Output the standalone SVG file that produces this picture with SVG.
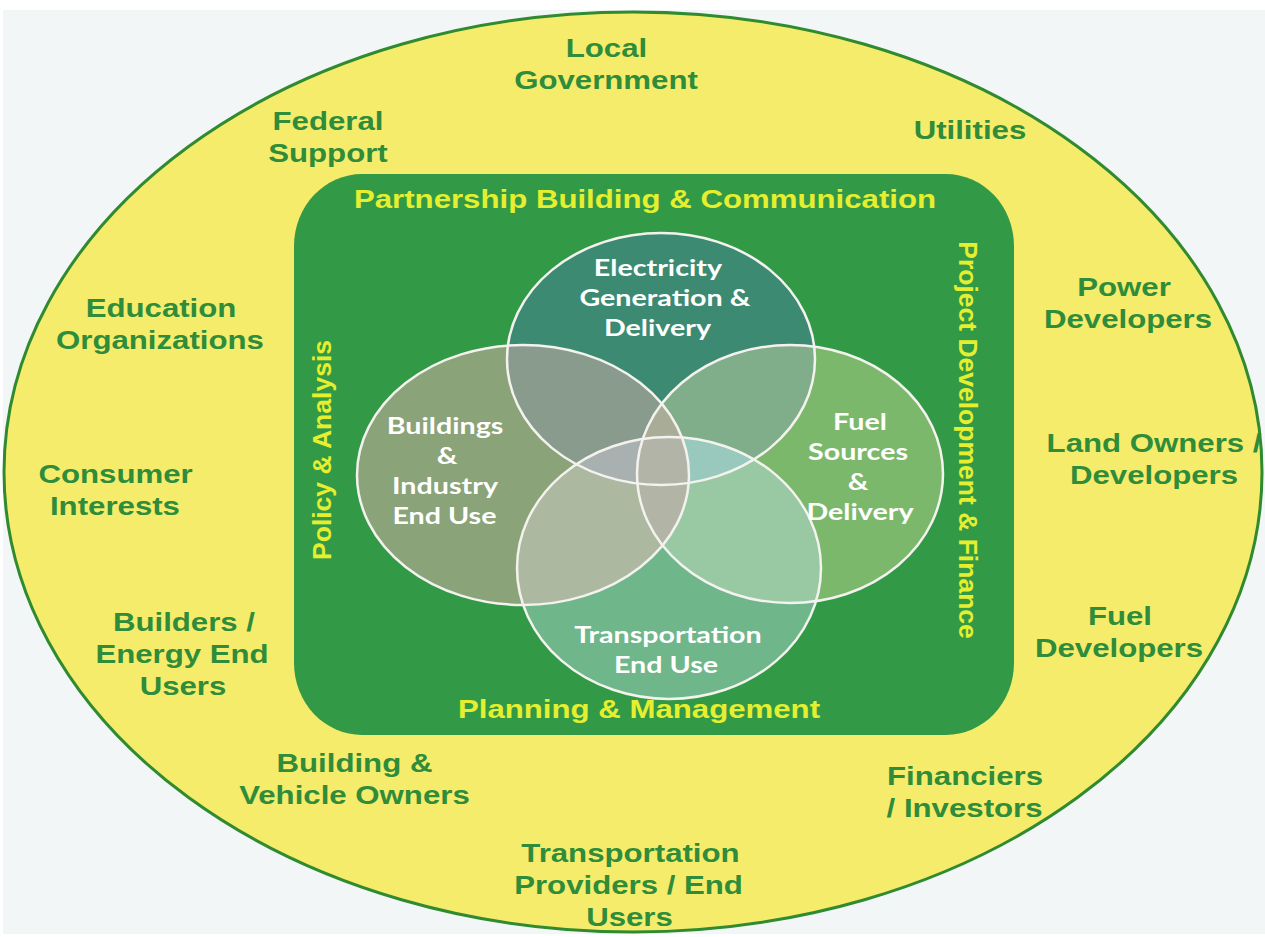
<svg xmlns="http://www.w3.org/2000/svg" width="1265" height="937" viewBox="0 0 1265 937">
<style>
.out{font-family:"Liberation Sans",Arial,sans-serif;font-weight:bold;font-size:26px;fill:#2e8c3a;text-anchor:middle}
.yel{font-family:"Liberation Sans",Arial,sans-serif;font-weight:bold;font-size:26px;fill:#e6ee30;text-anchor:middle}
.rot{font-family:"Liberation Sans",Arial,sans-serif;font-weight:bold;font-size:26.5px;fill:#e6ee30;text-anchor:middle}
.vt{font-family:Lato,"Open Sans",sans-serif;font-weight:bold;font-size:23.5px;fill:#ffffff;text-anchor:middle}
.ring{fill:none;stroke:#f4f2ee;stroke-width:2.5}
</style>
<defs>
<clipPath id="cE"><ellipse cx="661" cy="359" rx="154" ry="126"/></clipPath>
<clipPath id="cB"><ellipse cx="523" cy="475" rx="166" ry="130"/></clipPath>
<clipPath id="cF"><ellipse cx="790" cy="474" rx="153" ry="129"/></clipPath>
<clipPath id="cT"><ellipse cx="669" cy="568" rx="152" ry="131"/></clipPath>
</defs>
<rect width="1265" height="937" fill="#ffffff"/>
<rect x="3" y="10" width="1262" height="924" fill="#f3f6f6"/>
<g id="outer">
<ellipse cx="633" cy="472" rx="629" ry="460" fill="#f5ec6c" stroke="#2f8a30" stroke-width="3"/>
</g>
<g id="frame">
<rect x="294" y="174" width="720" height="561" rx="68" ry="72" fill="#329a46"/>
</g>
<g id="venn">
<ellipse id="E" cx="661" cy="359" rx="154" ry="126" fill="#3d8a73"/>
<ellipse id="B" cx="523" cy="475" rx="166" ry="130" fill="#8aa378"/>
<ellipse id="F" cx="790" cy="474" rx="153" ry="129" fill="#7cb86c"/>
<ellipse id="T" cx="669" cy="568" rx="152" ry="131" fill="#70b68b"/>
<g clip-path="url(#cE)"><ellipse cx="523" cy="475" rx="166" ry="130" fill="#889b8d"/></g>
<g clip-path="url(#cE)"><ellipse cx="790" cy="474" rx="153" ry="129" fill="#81ae8a"/></g>
<g clip-path="url(#cE)"><ellipse cx="669" cy="568" rx="152" ry="131" fill="#9cc2b4"/></g>
<g clip-path="url(#cB)"><ellipse cx="669" cy="568" rx="152" ry="131" fill="#acb9a0"/></g>
<g clip-path="url(#cF)"><ellipse cx="669" cy="568" rx="152" ry="131" fill="#98c9a3"/></g>
<g clip-path="url(#cB)"><ellipse cx="790" cy="474" rx="153" ry="129" fill="#aeb09e"/></g>
<g clip-path="url(#cE)"><g clip-path="url(#cT)"><ellipse cx="523" cy="475" rx="166" ry="130" fill="#a8b1b0"/></g></g>
<g clip-path="url(#cE)"><g clip-path="url(#cT)"><ellipse cx="790" cy="474" rx="153" ry="129" fill="#99c9bc"/></g></g>
<g clip-path="url(#cE)"><g clip-path="url(#cB)"><ellipse cx="790" cy="474" rx="153" ry="129" fill="#a9ad98"/></g></g>
<g clip-path="url(#cB)"><g clip-path="url(#cF)"><ellipse cx="669" cy="568" rx="152" ry="131" fill="#b2b5a5"/></g></g>
<g clip-path="url(#cE)"><g clip-path="url(#cB)"><g clip-path="url(#cF)"><ellipse cx="669" cy="568" rx="152" ry="131" fill="#b3b4a8"/></g></g></g>
<ellipse class="ring" cx="661" cy="359" rx="154" ry="126"/>
<ellipse class="ring" cx="523" cy="475" rx="166" ry="130"/>
<ellipse class="ring" cx="790" cy="474" rx="153" ry="129"/>
<ellipse class="ring" cx="669" cy="568" rx="152" ry="131" stroke="#f4e6e2"/>
</g>
<g id="node-electricity" transform="scale(1.22,1)"><text class="vt" x="539.3" y="276">Electricity</text><text class="vt" x="545" y="306">Generation &amp;</text><text class="vt" x="538.9" y="336">Delivery</text></g>
<g id="node-buildings" transform="scale(1.22,1)"><text class="vt" x="364.8" y="434">Buildings</text><text class="vt" x="366.4" y="464">&amp;</text><text class="vt" x="364.8" y="494">Industry</text><text class="vt" x="364.3" y="524">End Use</text></g>
<g id="node-fuel" transform="scale(1.22,1)"><text class="vt" x="704.9" y="430">Fuel</text><text class="vt" x="703.3" y="460">Sources</text><text class="vt" x="703.3" y="490">&amp;</text><text class="vt" x="704.9" y="520">Delivery</text></g>
<g id="node-transport" transform="scale(1.22,1)"><text class="vt" x="547.5" y="643">Transportation</text><text class="vt" x="545.9" y="673">End Use</text></g>
<g id="frame-labels">
<g transform="scale(1.2,1)">
<text class="yel" x="537.5" y="208">Partnership Building &amp; Communication</text>
<text class="yel" x="532.5" y="718">Planning &amp; Management</text>
</g>
<text class="rot" transform="translate(331,450) rotate(-90)">Policy &amp; Analysis</text>
<text class="rot" transform="translate(959,440) rotate(90)">Project Development &amp; Finance</text>
</g>
<g id="stakeholders" transform="scale(1.2,1)">
<text class="out" x="505.4" y="57">Local</text><text class="out" x="505" y="89">Government</text>
<text class="out" x="273.3" y="130">Federal</text><text class="out" x="273.3" y="162">Support</text>
<text class="out" x="808.3" y="139">Utilities</text>
<text class="out" x="134.2" y="317">Education</text><text class="out" x="133.3" y="349">Organizations</text>
<text class="out" x="936.7" y="296">Power</text><text class="out" x="940" y="328">Developers</text>
<text class="out" x="961.7" y="452">Land Owners /</text><text class="out" x="961.7" y="484">Developers</text>
<text class="out" x="96.3" y="483">Consumer</text><text class="out" x="95.8" y="515">Interests</text>
<text class="out" x="153.3" y="631">Builders /</text><text class="out" x="151.7" y="663">Energy End</text><text class="out" x="152.5" y="695">Users</text>
<text class="out" x="933.3" y="625">Fuel</text><text class="out" x="932.5" y="657">Developers</text>
<text class="out" x="295.4" y="772">Building &amp;</text><text class="out" x="295.4" y="804">Vehicle Owners</text>
<text class="out" x="804.2" y="785">Financiers</text><text class="out" x="803.8" y="817">/ Investors</text>
<text class="out" x="525.4" y="862">Transportation</text><text class="out" x="523.8" y="894">Providers / End</text><text class="out" x="524.6" y="926">Users</text>
</g>
</svg>
